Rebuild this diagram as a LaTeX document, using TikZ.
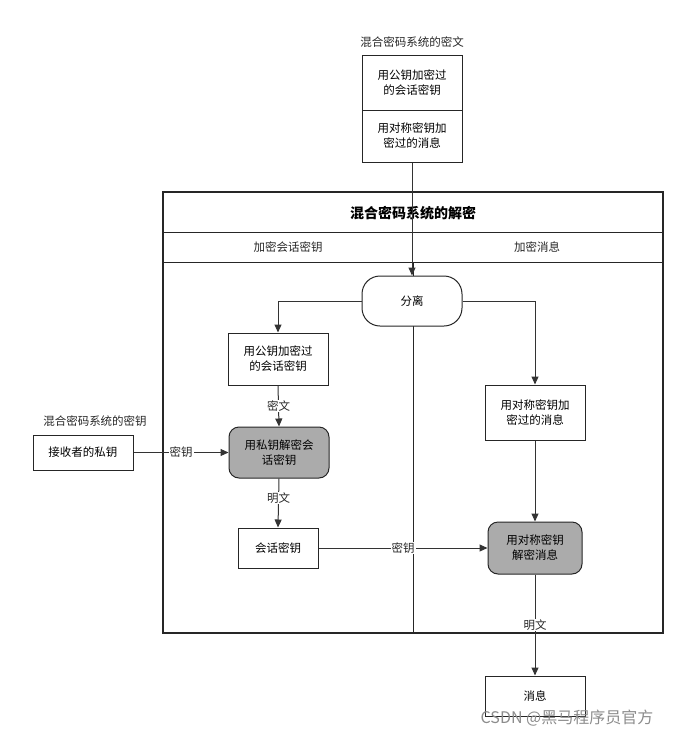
\documentclass[tikz,border=0pt]{standalone}
\usepackage{fontspec}
\setmainfont{Noto Sans CJK SC}
\usetikzlibrary{arrows.meta}
\begin{document}
\begin{tikzpicture}[x=1pt,y=-1pt,
  lbl/.style={font=\fontsize{11.5}{14}\selectfont, text=black!85},
  box/.style={draw=black!85, line width=1pt, fill=white, font=\fontsize{11.5}{15}\selectfont, align=center, inner sep=0pt},
  gbox/.style={box, fill=black!33, rounded corners=10pt},
  arr/.style={draw=black!80, line width=1pt, -{Triangle[length=8pt,width=7pt]}},
  elbl/.style={lbl, fill=white, inner sep=1pt}]
\useasboundingbox (0,0) rectangle (688,737);
% frame
\draw[line width=1.2pt, black!85] (163,192) rectangle (663,633);
\draw[line width=1pt, black!85] (163,232) -- (663,232) (163,262) -- (663,262);
\draw[line width=1pt, black!85] (413,262) -- (413,633);
\node[font=\bfseries\fontsize{14}{16}\selectfont] (title) at (413,213) {混合密码系统的解密};
\node[lbl] (h1) at (288,247) {加密会话密钥};
\node[lbl] (h2) at (537,247) {加密消息};
% top cipher
\node[lbl] (ctl) at (412,42) {混合密码系统的密文};
\node[box, minimum width=100pt, minimum height=55pt] (c1) at (412,82.5) {用公钥加密过\\的会话密钥};
\node[box, minimum width=100pt, minimum height=52pt] (c2) at (412,136) {用对称密钥加\\密过的消息};
\node[box, rounded corners=18pt, minimum width=100pt, minimum height=50pt] (sep) at (412,301) {分离};
\draw[arr] (c2.south) -- (sep.north);
\node[box, minimum width=100pt, minimum height=52pt] (pk) at (278,359) {用公钥加密过\\的会话密钥};
\node[box, minimum width=100pt, minimum height=55pt] (sym) at (535,412.5) {用对称密钥加\\密过的消息};
\draw[arr] (sep.west) -| (pk.north);
\draw[arr] (sep.east) -| (sym.north);
\node[gbox, minimum width=100pt, minimum height=51pt] (dk) at (279,452.5) {用私钥解密会\\话密钥};
\draw[arr] (pk.south) -- node[elbl]{密文} (dk.north);
\node[box, minimum width=80pt, minimum height=40pt] (sk) at (278,548) {会话密钥};
\draw[arr] (dk.south) -- node[elbl, pos=0.4]{明文} (sk.north);
\node[gbox, minimum width=94pt, minimum height=52pt] (dm) at (535,548) {用对称密钥\\解密消息};
\draw[arr] (sym.south) -- (dm.north);
\draw[arr] (sk.east) -- node[elbl, pos=0.5]{密钥} (dm.west);
\node[box, minimum width=100pt, minimum height=40pt] (msg) at (535,696) {消息};
\draw[arr] (dm.south) -- node[elbl, pos=0.5]{明文} (msg.north);
% key
\node[lbl] (kl) at (95,421) {混合密码系统的密钥};
\node[box, minimum width=100pt, minimum height=35pt] (priv) at (83,452.5) {接收者的私钥};
\draw[arr] (priv.east) -- node[elbl, pos=0.5]{密钥} (dk.west);
\node[font=\fontsize{16}{18}\selectfont, text=black!45] (wm) at (567,718) {CSDN @黑马程序员官方};
\end{tikzpicture}
\end{document}
